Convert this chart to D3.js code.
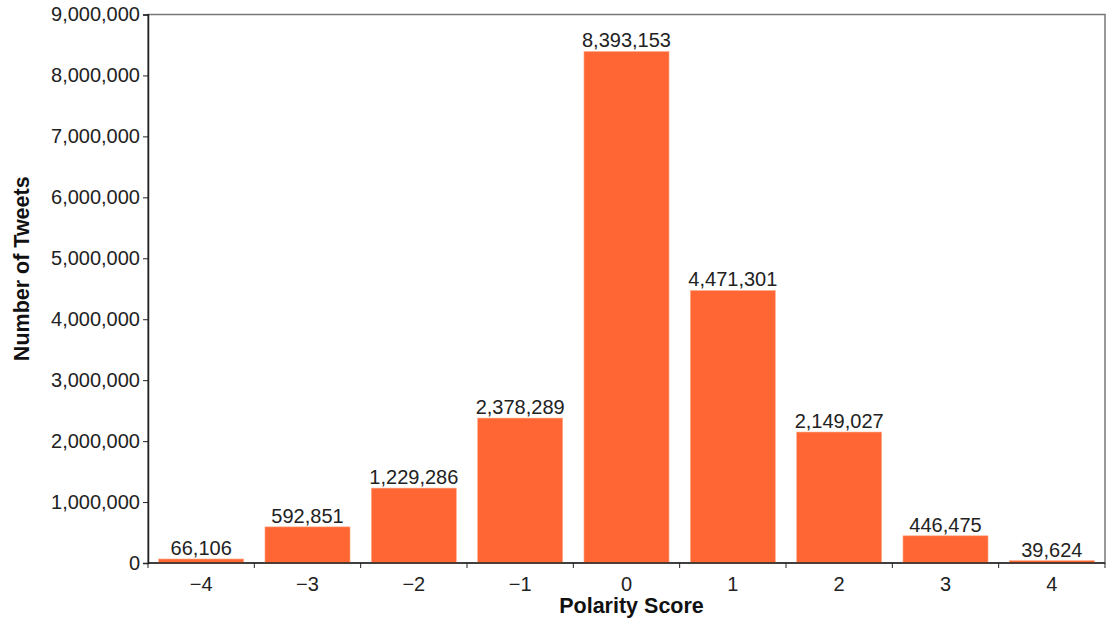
<!DOCTYPE html>
<html lang="en">
<head>
<meta charset="UTF-8">
<title>Polarity Score</title>
<script src="https://cdnjs.cloudflare.com/ajax/libs/d3/7.8.5/d3.min.js"></script>
<style>
  body { margin: 0; background: #fff; font-family: "Liberation Sans", Arial, sans-serif; }
  .axis text { font-size: 20px; fill: #222; font-family: "Liberation Sans", Arial, sans-serif; }
  .axis path, .axis line { stroke: #222; }
</style>
</head>
<body>
<div id="chart"></div>
<script>
const categories = ["\u22124", "\u22123", "\u22122", "\u22121", "0", "1", "2", "3", "4"];
const tweets = [66106, 592851, 1229286, 2378289, 8393153, 4471301, 2149027, 446475, 39624];
const yTicks = [0, 1000000, 2000000, 3000000, 4000000, 5000000, 6000000, 7000000, 8000000, 9000000];

const width = 1115, height = 622;
const margin = {top: 14.5, right: 10, bottom: 59, left: 148};
const iw = width - margin.left - margin.right;
const ih = height - margin.top - margin.bottom;

const svg = d3.select("#chart").append("svg")
    .attr("width", width)
    .attr("height", height);

const g = svg.append("g").attr("transform", `translate(${margin.left},${margin.top})`);

const x = d3.scaleBand().domain(categories).range([0, iw]).paddingInner(0.2).paddingOuter(0.1);
const y = d3.scaleLinear().domain([0, 9000000]).range([ih, 0]);
const fmt = d3.format(",");

// frame
g.append("rect")
    .attr("width", iw).attr("height", ih)
    .attr("fill", "none").attr("stroke", "#777").attr("stroke-width", 1.5);

// bars
g.selectAll(".bar")
    .data(tweets)
    .enter().append("rect")
    .attr("class", "bar")
    .attr("x", (d, i) => x(categories[i]))
    .attr("y", d => y(d))
    .attr("width", x.bandwidth())
    .attr("height", d => ih - y(d))
    .attr("fill", "#ff6633")
    .attr("stroke", "#ffb08f")
    .attr("stroke-width", 0.6);

// value labels
g.selectAll(".val")
    .data(tweets)
    .enter().append("text")
    .attr("class", "val")
    .attr("x", (d, i) => x(categories[i]) + x.bandwidth() / 2)
    .attr("y", d => y(d) - 4)
    .attr("text-anchor", "middle")
    .attr("font-size", 20)
    .attr("fill", "#222")
    .text(d => fmt(d));

// y axis
g.append("g").attr("class", "axis")
    .call(d3.axisLeft(y).tickValues(yTicks).tickFormat(fmt).tickSize(5).tickPadding(3))
    .call(a => a.select(".domain").attr("stroke-width", 1.5));

// x axis: ticks at category boundaries
const xAxis = g.append("g").attr("class", "axis")
    .attr("transform", `translate(0,${ih})`);
xAxis.append("line").attr("x1", 0).attr("x2", iw).attr("stroke", "#222").attr("stroke-width", 1.5);
const bounds = d3.range(categories.length + 1).map(i => i * iw / categories.length);
xAxis.selectAll(".tk").data(bounds).enter().append("line")
    .attr("x1", d => d).attr("x2", d => d).attr("y1", 0).attr("y2", 5)
    .attr("stroke", "#222");
xAxis.selectAll(".lbl").data(categories).enter().append("text")
    .attr("x", d => x(d) + x.bandwidth() / 2)
    .attr("y", 28)
    .attr("text-anchor", "middle")
    .text(d => d);

// axis titles
svg.append("text")
    .attr("x", margin.left + iw / 2 + 5)
    .attr("y", 613)
    .attr("text-anchor", "middle")
    .attr("font-size", 21.5).attr("font-weight", "bold").attr("fill", "#111")
    .text("Polarity Score");

svg.append("text")
    .attr("transform", `translate(29,${margin.top + ih / 2 - 20}) rotate(-90)`)
    .attr("text-anchor", "middle")
    .attr("font-size", 21.5).attr("font-weight", "bold").attr("fill", "#111")
    .text("Number of Tweets");
</script>
</body>
</html>
